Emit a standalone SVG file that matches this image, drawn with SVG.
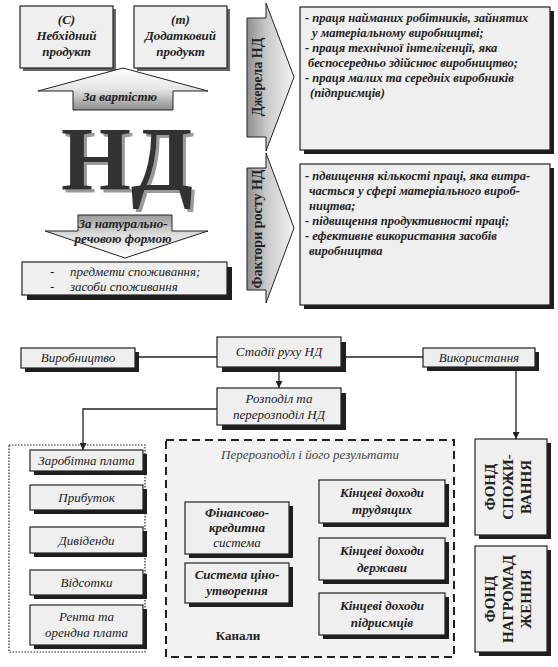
<svg xmlns="http://www.w3.org/2000/svg" width="558" height="667" viewBox="0 0 558 667">
<defs>
<linearGradient id="gUp" x1="0" y1="0" x2="0" y2="1"><stop offset="0" stop-color="#ffffff"/><stop offset="0.5" stop-color="#e6e6e6"/><stop offset="1" stop-color="#8c8c8c"/></linearGradient>
<linearGradient id="gDown" x1="0" y1="0" x2="0" y2="1"><stop offset="0" stop-color="#9a9a9a"/><stop offset="0.45" stop-color="#dcdcdc"/><stop offset="1" stop-color="#ffffff"/></linearGradient>
<linearGradient id="gRight" x1="0" y1="0" x2="1" y2="0"><stop offset="0" stop-color="#8e8e8e"/><stop offset="0.4" stop-color="#c8c8c8"/><stop offset="1" stop-color="#f4f4f4"/></linearGradient>
<filter id="ndShadow" x="-10%" y="-10%" width="130%" height="130%">
<feOffset in="SourceAlpha" dx="3" dy="3" result="o"/>
<feFlood flood-color="#9a9a9a"/>
<feComposite in2="o" operator="in" result="s"/>
<feMerge><feMergeNode in="s"/><feMergeNode in="SourceGraphic"/></feMerge>
</filter>
<marker id="arr" viewBox="0 0 10 10" refX="10" refY="5" markerWidth="7" markerHeight="7" orient="auto" markerUnits="userSpaceOnUse"><path d="M0,0 L10,5 L0,10 z" fill="#222"/></marker>
</defs>
<style>
.t{font-family:"Liberation Serif","Times New Roman",serif;fill:#222}
.i{font-style:italic}
.b{font-weight:bold}
.m{text-anchor:middle}
.s13{font-size:13px}
.s12{font-size:12.5px}
.box{fill:#efefef;stroke:#222;stroke-width:1.2}
.sh{fill:#1e1e1e}
.sh2{fill:#666}
.ln{fill:none;stroke:#222;stroke-width:1.3}
.ar{stroke:#222;stroke-width:1}
</style>
<rect x="0" y="0" width="558" height="667" fill="#ffffff"/>

<g id="node-c">
<rect class="sh2" x="23" y="9" width="93" height="62"/>
<rect class="box" x="20" y="6" width="93" height="62"/>
<text class="t i b s13 m" x="66.5" y="24">(C)</text>
<text class="t i b s13 m" x="66.5" y="40">Небхідний</text>
<text class="t i b s13 m" x="66.5" y="56">продукт</text>
</g>
<g id="node-m">
<rect class="sh2" x="137" y="9" width="93" height="62"/>
<rect class="box" x="134" y="6" width="93" height="62"/>
<text class="t i b s13 m" x="180.5" y="24">(m)</text>
<text class="t i b s13 m" x="180.5" y="40">Додатковий</text>
<text class="t i b s13 m" x="180.5" y="56">продукт</text>
</g>
<g id="arrow-vartist">
<polygon class="ar" fill="url(#gUp)" points="123,68 208,91 173,91 173,110 73,110 73,91 38,91"/>
<text class="t i b s13 m" x="120" y="101">За вартістю</text>
</g>
<g id="nd-title">
<text class="t b m" x="127" y="190" font-size="90" style="fill:#333" filter="url(#ndShadow)">НД</text>
</g>
<g id="arrow-forma">
<polygon class="ar" fill="url(#gDown)" points="78,215 172,215 172,231 208,231 125,258 45,231 78,231"/>
<text class="t i b s13 m" x="123" y="228">За натурально-</text>
<text class="t i b s13 m" x="123" y="243">речовою формою</text>
</g>
<g id="node-predmety">
<rect class="sh" x="27" y="267" width="205" height="33"/>
<rect class="box" x="22" y="262" width="205" height="33"/>
<text class="t i s13" x="50" y="276">-</text>
<text class="t i s13" x="70" y="276">предмети споживання;</text>
<text class="t i s13" x="50" y="291">-</text>
<text class="t i s13" x="70" y="291">засоби споживання</text>
</g>
<g id="arrow-dzherela">
<polygon class="ar" fill="url(#gRight)" points="247,18 266,18 266,3 294,77 266,151 266,137 247,137"/>
<text class="t b m" font-size="14" transform="translate(262,77) rotate(-90)" x="0" y="0">Джерела НД</text>
</g>
<g id="arrow-faktory">
<polygon class="ar" fill="url(#gRight)" points="247,168 266,168 266,153 294,228 266,303 266,290 247,290"/>
<text class="t b m" font-size="14" transform="translate(262,229) rotate(-90)" x="0" y="0">Фактори росту НД</text>
</g>
<g id="node-dzherela-list">
<rect class="sh" x="304" y="11" width="250" height="143"/>
<rect class="box" x="300" y="7" width="250" height="143"/>
<text class="t i b s12" x="305" y="22">-  праця найманих робітників, зайнятих</text>
<text class="t i b s12" x="312" y="37">у матеріальному виробництві;</text>
<text class="t i b s12" x="305" y="52">- праця технічної інтелігенції, яка</text>
<text class="t i b s12" x="308" y="67">беспосередньо здійснює виробництво;</text>
<text class="t i b s12" x="305" y="82">-  праця малих та середніх виробників</text>
<text class="t i b s12" x="310" y="97">(підприємців)</text>
</g>
<g id="node-faktory-list">
<rect class="sh" x="304" y="168" width="250" height="141"/>
<rect class="box" x="300" y="164" width="250" height="141"/>
<text class="t i b s12" x="305" y="180">- пдвищення кількості праці, яка витра-</text>
<text class="t i b s12" x="309" y="195">часться у сфері матеріального вироб-</text>
<text class="t i b s12" x="309" y="210">ництва;</text>
<text class="t i b s12" x="305" y="225">- підвищення продуктивності праці;</text>
<text class="t i b s12" x="305" y="240">- ефективне використання засобів</text>
<text class="t i b s12" x="309" y="255">виробництва</text>
</g>

<g id="connectors">
<line class="ln" x1="135" y1="357" x2="217" y2="357"/>
<line class="ln" x1="341" y1="357" x2="423" y2="357"/>
<line class="ln" x1="279" y1="367" x2="279" y2="388" marker-end="url(#arr)"/>
<polyline class="ln" points="217,409 83,409 83,450" marker-end="url(#arr)"/>
<line class="ln" x1="516" y1="367" x2="516" y2="439" marker-end="url(#arr)"/>
</g>

<g id="node-vyrobnytstvo">
<rect class="sh" x="25" y="352" width="114" height="20"/>
<rect class="box" x="21" y="348" width="114" height="20"/>
<text class="t i s13 m" x="78" y="362">Виробництво</text>
</g>
<g id="node-stadii">
<rect class="sh" x="222" y="342" width="124" height="30"/>
<rect class="box" x="217" y="337" width="124" height="30"/>
<text class="t i s13 m" x="279" y="356">Стадії руху НД</text>
</g>
<g id="node-vykorystannia">
<rect class="sh" x="427" y="352" width="112" height="19"/>
<rect class="box" x="423" y="348" width="112" height="19"/>
<text class="t i s13 m" x="479" y="362">Використання</text>
</g>
<g id="node-rozpodil">
<rect class="sh" x="222" y="393" width="124" height="37"/>
<rect class="box" x="217" y="388" width="124" height="37"/>
<text class="t i s13 m" x="279" y="403">Розподіл та</text>
<text class="t i s13 m" x="279" y="419">перерозподіл НД</text>
</g>

<g id="group-dokhody">
<rect x="9" y="445" width="136" height="207" fill="none" stroke="#222" stroke-width="1.2" stroke-dasharray="1.5,1.5"/>
</g>
<g id="node-zarplata">
<rect class="sh" x="34" y="454" width="113" height="21"/>
<rect class="box" x="30" y="450" width="113" height="21"/>
<text class="t i s13 m" x="86.5" y="465">Заробітна плата</text>
</g>
<g id="node-prybutok">
<rect class="sh" x="34" y="489" width="113" height="25"/>
<rect class="box" x="30" y="485" width="113" height="25"/>
<text class="t i s13 m" x="86.5" y="502">Прибуток</text>
</g>
<g id="node-dyvidendy">
<rect class="sh" x="34" y="531" width="113" height="26"/>
<rect class="box" x="30" y="527" width="113" height="26"/>
<text class="t i s13 m" x="86.5" y="545">Дивіденди</text>
</g>
<g id="node-vidsotky">
<rect class="sh" x="34" y="574" width="113" height="25"/>
<rect class="box" x="30" y="570" width="113" height="25"/>
<text class="t i s13 m" x="86.5" y="587">Відсотки</text>
</g>
<g id="node-renta">
<rect class="sh" x="34" y="609" width="113" height="40"/>
<rect class="box" x="30" y="605" width="113" height="40"/>
<text class="t i s13 m" x="86.5" y="621">Рента та</text>
<text class="t i s13 m" x="86.5" y="637">орендна плата</text>
</g>

<g id="group-pererozpodil">
<rect x="166" y="440" width="288" height="217" fill="#f2f2f2" stroke="#222" stroke-width="2" stroke-dasharray="8,5"/>
<text class="t i s13 m" x="310" y="459" style="fill:#444">Перерозподіл і його результати</text>
<text class="t b s13 m" x="238" y="640">Канали</text>
</g>
<g id="node-finansovo">
<rect class="sh" x="189" y="506" width="104" height="52"/>
<rect class="box" x="185" y="502" width="104" height="52"/>
<text class="t i b s13 m" x="237" y="517">Фінансово-</text>
<text class="t i b s13 m" x="237" y="532">кредитна</text>
<text class="t i s13 m" x="237" y="547">система</text>
</g>
<g id="node-tsinoutvorennia">
<rect class="sh" x="189" y="567" width="104" height="40"/>
<rect class="box" x="185" y="563" width="104" height="40"/>
<text class="t i b s13 m" x="237" y="579">Система ціно-</text>
<text class="t i b s13 m" x="237" y="595">утворення</text>
</g>
<g id="node-trudiashchykh">
<rect class="sh" x="323" y="484" width="126" height="43"/>
<rect class="box" x="319" y="480" width="126" height="43"/>
<text class="t i b s13 m" x="382" y="497">Кінцеві доходи</text>
<text class="t i b s13 m" x="382" y="514">трудящих</text>
</g>
<g id="node-derzhavy">
<rect class="sh" x="323" y="542" width="126" height="42"/>
<rect class="box" x="319" y="538" width="126" height="42"/>
<text class="t i b s13 m" x="382" y="555">Кінцеві доходи</text>
<text class="t i b s13 m" x="382" y="572">держави</text>
</g>
<g id="node-pidpryiemtsiv">
<rect class="sh" x="323" y="597" width="126" height="42"/>
<rect class="box" x="319" y="593" width="126" height="42"/>
<text class="t i b s13 m" x="382" y="610">Кінцеві доходи</text>
<text class="t i b s13 m" x="382" y="627">підрисмців</text>
</g>

<g id="node-fond-spozhyvannia">
<rect class="sh" x="479" y="443" width="72" height="96"/>
<rect class="box" x="475" y="439" width="72" height="96"/>
<g transform="translate(511,487) rotate(-90)">
<text class="t b m" font-size="15" x="0" y="-16.5">ФОНД</text>
<text class="t b m" font-size="15" x="0" y="1.5">СПОЖИ-</text>
<text class="t b m" font-size="15" x="0" y="19.5">ВАННЯ</text>
</g>
</g>
<g id="node-fond-nagromadzhennia">
<rect class="sh" x="479" y="550" width="72" height="106"/>
<rect class="box" x="475" y="546" width="72" height="106"/>
<g transform="translate(511,599) rotate(-90)">
<text class="t b m" font-size="15" x="0" y="-16.5">ФОНД</text>
<text class="t b m" font-size="15" x="0" y="1.5">НАГРОМАД</text>
<text class="t b m" font-size="15" x="0" y="19.5">ЖЕННЯ</text>
</g>
</g>
</svg>
